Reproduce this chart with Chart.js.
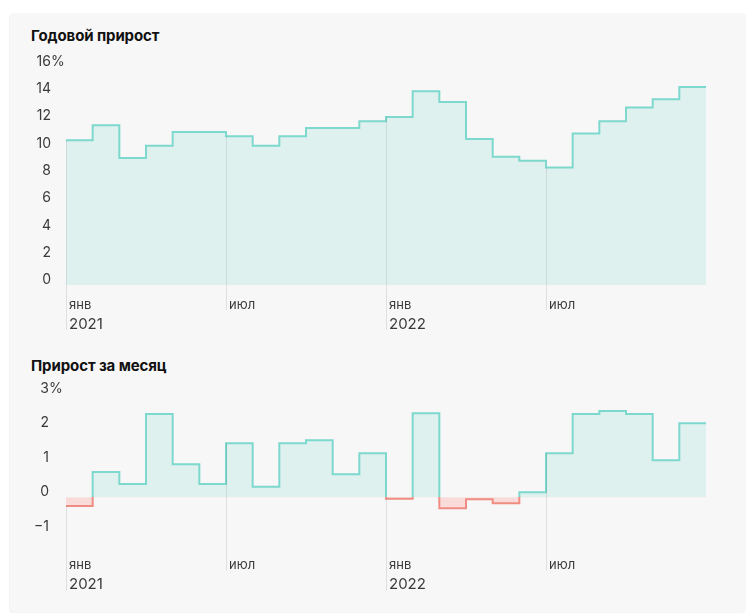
<!DOCTYPE html>
<html>
<head>
<meta charset="utf-8">
<script src="https://cdn.jsdelivr.net/npm/chart.js@4"></script>
<style>
  body { margin: 0; background: #fff; font-family: Inter, "Noto Sans", sans-serif; }
  .panel { position: absolute; left: 10px; top: 13px; width: 736px; height: 599px; background: #f7f7f7; border-radius: 4px; box-shadow: -1px 1px 1px rgba(0,0,0,0.05); }
  .title { position: absolute; left: 31px; font-weight: 700; font-size: 15px; color: #111; letter-spacing: -0.1px; }
  canvas { position: absolute; left: 0; }
</style>
</head>
<body>
<div class="panel"></div>
<div class="title" style="top:26px">Годовой прирост</div>
<div class="title" style="top:356px">Прирост за месяц</div>
<canvas id="annualChart" width="746" height="340" style="top:0"></canvas>
<canvas id="monthlyChart" width="746" height="275" style="top:340px"></canvas>
<script>
// Jan 2021 .. Dec 2022
const annualGrowth = [10.6, 11.7, 9.3, 10.2, 11.2, 11.2, 10.9, 10.2, 10.9, 11.5, 11.5, 12.0,
                      12.3, 14.2, 13.4, 10.7, 9.4, 9.1, 8.6, 11.1, 12.0, 13.0, 13.6, 14.5];
const monthlyGrowth = [-0.26, 0.73, 0.38, 2.41, 0.95, 0.38, 1.56, 0.30, 1.56, 1.65, 0.66, 1.27,
                       -0.05, 2.43, -0.32, -0.06, -0.18, 0.14, 1.27, 2.41, 2.49, 2.41, 1.07, 2.14];

const tickMonthIdx = [0, 6, 12, 18];
const tickMonths   = ['янв', 'июл', 'янв', 'июл'];
const tickYears    = ['2021', '', '2022', ''];

const annualTicks  = [0, 2, 4, 6, 8, 10, 12, 14, 16];
const monthlyTicks = [-1, 0, 1, 2, 3];

const TEAL = '#7dd8cd', TEAL_FILL = '#dff1ef';
const RED = '#f08c82', RED_FILL = '#f9dcd9';
const TEXT = '#3a3a3a';

// step points: value i covers month [i, i+1]
const toSteps = vals => vals.map((v, i) => ({ x: i, y: v })).concat([{ x: vals.length, y: vals[vals.length - 1] }]);

// teal above zero, red below
function lineColor(c) {
    const chart = c.chart;
    const area = chart.chartArea;
    if (!area) return TEAL;
    const z = chart.scales.y.getPixelForValue(0);
    let f = (z - area.top) / (area.bottom - area.top);
    f = Math.min(1, Math.max(0, f));
    const g = chart.ctx.createLinearGradient(0, area.top, 0, area.bottom);
    g.addColorStop(0, TEAL);
    g.addColorStop(f, TEAL);
    g.addColorStop(f, RED);
    g.addColorStop(1, RED);
    return g;
}

function axisPlugin(ticks, numRight) {
    return {
        id: 'axisText',
        afterDatasetsDraw(chart) {
            const { ctx, scales: { x, y }, chartArea } = chart;
            const data = chart.data.datasets[0].data;
            ctx.save();
            // drop lines under Jan / Jul
            ctx.strokeStyle = 'rgba(0,0,0,0.09)';
            ctx.lineWidth = 1;
            tickMonthIdx.forEach((m, k) => {
                const px = Math.round(x.getPixelForValue(m)) + 0.5;
                const top = y.getPixelForValue(data[m].y);
                const len = tickYears[k] ? 45 : 25;
                ctx.beginPath();
                ctx.moveTo(px, top);
                ctx.lineTo(px, chartArea.bottom + len);
                ctx.stroke();
            });
            // x labels
            ctx.fillStyle = TEXT;
            ctx.textAlign = 'left';
            ctx.textBaseline = 'middle';
            tickMonthIdx.forEach((m, k) => {
                const px = x.getPixelForValue(m) + 3;
                ctx.font = '13px Inter, sans-serif';
                ctx.fillText(tickMonths[k], px, chartArea.bottom + 20);
                if (tickYears[k]) {
                    ctx.font = '15px Inter, sans-serif';
                    ctx.fillText(tickYears[k], px, chartArea.bottom + 39);
                }
            });
            // y labels
            ctx.font = '14px Inter, sans-serif';
            const top = ticks[ticks.length - 1];
            ticks.forEach(t => {
                const py = y.getPixelForValue(t) - 5;
                const txt = t < 0 ? '\u2212' + Math.abs(t) : String(t);
                ctx.textAlign = 'right';
                ctx.fillText(txt, numRight, py);
                if (t === top) {
                    ctx.textAlign = 'left';
                    ctx.fillText('%', numRight, py);
                }
            });
            ctx.restore();
        }
    };
}

function stepChart(canvasId, values, ticks, yMin, yMax, padding, numRight) {
    new Chart(document.getElementById(canvasId).getContext('2d'), {
        type: 'line',
        data: {
            datasets: [{
                data: toSteps(values),
                stepped: 'before',
                borderWidth: 2,
                borderColor: lineColor,
                pointRadius: 0,
                fill: { target: { value: 0 }, above: TEAL_FILL, below: RED_FILL }
            }]
        },
        options: {
            responsive: false,
            animation: false,
            devicePixelRatio: 1,
            layout: { padding },
            plugins: { legend: { display: false }, tooltip: { enabled: false } },
            scales: {
                x: { type: 'linear', min: 0, max: values.length, display: false },
                y: { min: yMin, max: yMax, display: false }
            }
        },
        plugins: [axisPlugin(ticks, numRight)]
    });
}

stepChart('annualChart', annualGrowth, annualTicks, 0, 16,
    { left: 66, right: 40, top: 66.6, bottom: 55 }, 51);
stepChart('monthlyChart', monthlyGrowth, monthlyTicks, -1.4, 3,
    { left: 66, right: 40, top: 53.5, bottom: 69.5 }, 49);
</script>
</body>
</html>
